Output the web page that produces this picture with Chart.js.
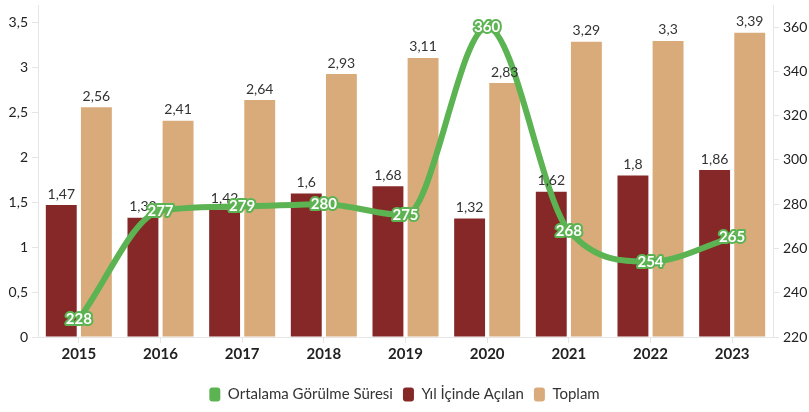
<!DOCTYPE html>
<html>
<head>
<meta charset="utf-8">
<script src="https://cdn.jsdelivr.net/npm/chart.js@4/dist/chart.umd.min.js"></script>
<style>
html,body{margin:0;padding:0;background:#fff;}
#wrap{width:809px;height:412px;}
</style>
</head>
<body>
<div id="wrap"><canvas id="c" width="809" height="412"></canvas></div>
<script>
const years = ['2015','2016','2017','2018','2019','2020','2021','2022','2023'];
const ortalamaGorulme = [228, 277, 279, 280, 275, 360, 268, 254, 265];
const yilIcindeAcilan = [1.47, 1.33, 1.42, 1.6, 1.68, 1.32, 1.62, 1.8, 1.86];
const toplam = [2.56, 2.41, 2.64, 2.93, 3.11, 2.83, 3.29, 3.3, 3.39];
const leftTicks = [0, 0.5, 1, 1.5, 2, 2.5, 3, 3.5];
const rightTicks = [220, 240, 260, 280, 300, 320, 340, 360];

const GREEN = '#5cb352', RED = '#862828', TAN = '#d9ab7b';
const FONT = 'Lato, "Noto Sans", sans-serif';
const fmt = v => String(v).replace('.', ',');

const labelPlugin = {
  id: 'labels',
  afterDatasetsDraw(chart) {
    const ctx = chart.ctx;
    ctx.save();
    ctx.textAlign = 'center';
    [1, 2].forEach(di => {
      const meta = chart.getDatasetMeta(di);
      const data = chart.data.datasets[di].data;
      ctx.font = '14px ' + FONT;
      ctx.fillStyle = '#333';
      ctx.textBaseline = 'bottom';
      meta.data.forEach((el, i) => {
        ctx.fillText(fmt(data[i]), el.x, el.y - 4);
      });
    });
    const meta = chart.getDatasetMeta(0);
    const data = chart.data.datasets[0].data;
    ctx.font = 'bold 15px ' + FONT;
    ctx.textBaseline = 'middle';
    ctx.lineJoin = 'round';
    meta.data.forEach((el, i) => {
      ctx.strokeStyle = GREEN;
      ctx.lineWidth = 4;
      ctx.strokeText(fmt(data[i]), el.x, el.y);
      ctx.fillStyle = '#fff';
      ctx.fillText(fmt(data[i]), el.x, el.y);
    });
    ctx.restore();
  }
};

function noVPad(s) { s.paddingTop = 0; s.paddingBottom = 0; }

new Chart(document.getElementById('c'), {
  type: 'bar',
  data: {
    labels: years,
    datasets: [
      {
        type: 'line', label: 'Ortalama Görülme Süresi', data: ortalamaGorulme,
        yAxisID: 'y1', borderColor: GREEN, backgroundColor: GREEN,
        borderWidth: 6, pointRadius: 0, cubicInterpolationMode: 'monotone', order: 0
      },
      {
        label: 'Yıl İçinde Açılan', data: yilIcindeAcilan, yAxisID: 'y',
        backgroundColor: RED, order: 1,
        categoryPercentage: 0.86, barPercentage: 0.88
      },
      {
        label: 'Toplam', data: toplam, yAxisID: 'y',
        backgroundColor: TAN, order: 1,
        categoryPercentage: 0.86, barPercentage: 0.88
      }
    ]
  },
  options: {
    responsive: false,
    animation: false,
    layout: { padding: { top: 5, left: 0, right: 0, bottom: 0 } },
    plugins: {
      tooltip: { enabled: false },
      legend: {
        position: 'bottom',
        labels: {
          font: { family: FONT, size: 15 }, color: '#333',
          boxWidth: 11, boxHeight: 14, useBorderRadius: true, borderRadius: 3,
          padding: 10,
          generateLabels(chart) {
            return chart.data.datasets.map((d, i) => ({
              text: d.label, fillStyle: d.backgroundColor, strokeStyle: d.backgroundColor,
              lineWidth: 0, borderRadius: 3, datasetIndex: i, hidden: false, fontColor: '#333'
            }));
          }
        }
      }
    },
    scales: {
      x: {
        afterFit(s) { s.height += 12; },
        grid: { display: true, offset: false, drawOnChartArea: false, tickLength: 6, color: '#e6e6e6' },
        border: { color: '#e6e6e6' },
        ticks: { font: { family: FONT, size: 15, weight: 'bold' }, color: '#222', padding: 2 }
      },
      y: {
        position: 'left', min: 0, max: 3.7,
        afterBuildTicks(s) { s.ticks = leftTicks.map(v => ({ value: v })); },
        afterFit(s) { s.width = 38; noVPad(s); },
        grid: { display: true, drawOnChartArea: false, tickLength: 6, color: '#e6e6e6' },
        border: { color: '#e6e6e6' },
        ticks: { font: { family: FONT, size: 14 }, color: '#222', padding: 4, callback: v => fmt(v) }
      },
      y1: {
        position: 'right', min: 220, max: 370,
        afterBuildTicks(s) { s.ticks = rightTicks.map(v => ({ value: v })); },
        afterFit(s) { s.width = 36; noVPad(s); },
        grid: { display: true, drawOnChartArea: false, tickLength: 6, color: '#e6e6e6' },
        border: { color: '#e6e6e6' },
        ticks: { font: { family: FONT, size: 14 }, color: '#222', padding: 4 }
      }
    }
  },
  plugins: [labelPlugin]
});
</script>
</body>
</html>
